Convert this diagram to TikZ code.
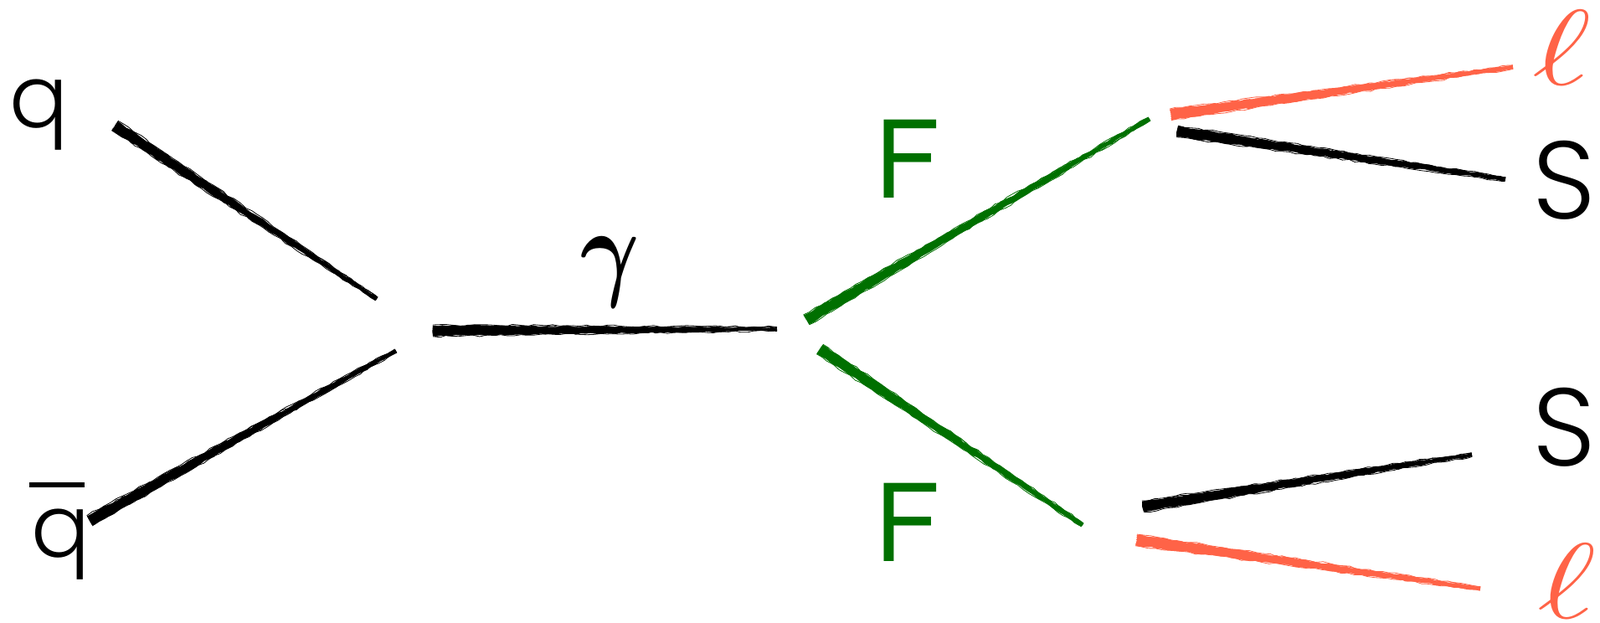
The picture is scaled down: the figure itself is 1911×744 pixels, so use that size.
\documentclass[tikz,border=0pt]{standalone}
\usepackage{graphicx}
\usepackage{amsmath}
\usepackage{fontspec}
\setsansfont{TeX Gyre Heros}
\newfontfamily\thinfont{Poppins}[UprightFont=* Light]
\usepackage{tikz}
\usetikzlibrary{calc, decorations.pathmorphing}
\definecolor{lepred}{RGB}{255,99,71}
\definecolor{fergreen}{RGB}{0,112,0}

% brush stroke, thick at #2, thin at #3
\newcommand{\brush}[3][black]{%
  \fill[#1, decorate, decoration={random steps, segment length=3pt, amplitude=0.5pt}]
    ($(#2)!3.2pt!90:(#3)$) -- ($(#3)!1pt!-90:(#2)$) -- ($(#3)!1pt!90:(#2)$) -- ($(#2)!3.2pt!-90:(#3)$) -- cycle;
  \foreach \o in {-3.4,-2.2,-1,0.3,1.5,2.7,3.5}{%
    \draw[#1, line width=0.4pt, decorate, decoration={random steps, segment length=4pt, amplitude=0.6pt}]
      ($(#2)!\o pt!90:(#3)$) -- ($(#3)!\o*0.35pt!-90:(#2)$);
  }%
}
% big math symbol
\newcommand{\bigsym}[3]{\scalebox{#1}[#2]{\fontsize{20.74}{24}\selectfont$#3$}}

\begin{document}
\begin{tikzpicture}[x=0.5pt, y=-0.5pt,
  lbl/.style={inner sep=0pt, anchor=base, font=\sffamily\fontsize{64}{70}\selectfont},
  slbl/.style={lbl, font=\thinfont\fontsize{66}{72}\selectfont},
  qlbl/.style={lbl, font=\thinfont\fontsize{52}{60}\selectfont},
  mlbl/.style={inner sep=0pt, anchor=base}
]
\useasboundingbox (0,0) rectangle (1911,744);

% Incoming quarks
\node[qlbl] (q)  at (47,152) {q};
\node[qlbl] (qb) at (73,665) {\makebox[0pt][l]{\hspace{-1.2pt}\raisebox{41.5pt}{\rule{33pt}{3pt}}}q};

% Photon
\node[mlbl] (gam) at (729,341) {\bigsym{2.6}{3.16}{\boldsymbol{\gamma}}};

% Fermion pair
\node[lbl, text=fergreen] (F1) at (1084,236) {F};
\node[lbl, text=fergreen] (F2) at (1084,670) {F};

% Final states
\node[mlbl, text=lepred] (L1) at (1865,101) {\bigsym{4.1}{3.09}{\ell}};
\node[slbl] (S1) at (1868,261) {S};
\node[slbl] (S2) at (1868,556) {S};
\node[mlbl, text=lepred] (L2) at (1871,738) {\bigsym{4.1}{3.09}{\ell}};

% Stroke end points
\coordinate (q-a)  at (137,150);  \coordinate (q-b)  at (450,357);
\coordinate (qb-a) at (107,622);  \coordinate (qb-b) at (473,419);
\coordinate (g-a)  at (517,395);  \coordinate (g-b)  at (928,393);
\coordinate (F1-a) at (963,382);  \coordinate (F1-b) at (1373,142);
\coordinate (F2-a) at (979,417);  \coordinate (F2-b) at (1293,627);
\coordinate (L1-a) at (1398,137); \coordinate (L1-b) at (1807,80);
\coordinate (S1-a) at (1406,157); \coordinate (S1-b) at (1798,214);
\coordinate (S2-a) at (1365,605); \coordinate (S2-b) at (1758,543);
\coordinate (L2-a) at (1357,645); \coordinate (L2-b) at (1768,703);

% Propagators
\brush{q-a}{q-b}
\brush{qb-a}{qb-b}
\brush{g-a}{g-b}
\brush[fergreen]{F1-a}{F1-b}
\brush[fergreen]{F2-a}{F2-b}
\brush[lepred]{L1-a}{L1-b}
\brush{S1-a}{S1-b}
\brush{S2-a}{S2-b}
\brush[lepred]{L2-a}{L2-b}

\end{tikzpicture}
\end{document}
